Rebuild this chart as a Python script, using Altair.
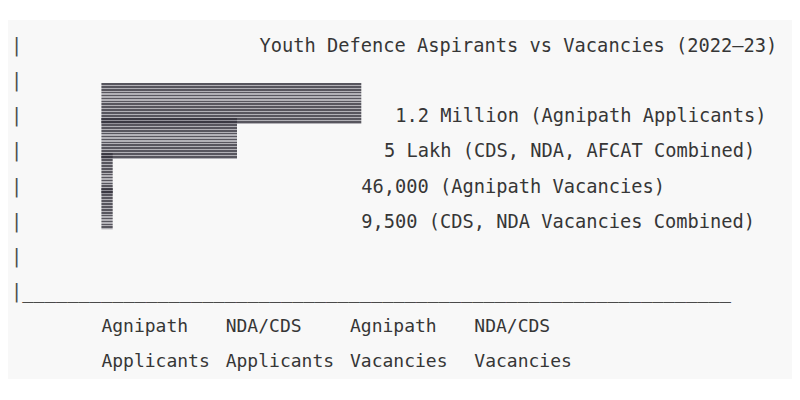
import altair as alt
import pandas as pd

# ---- data ----
title_text = "Youth Defence Aspirants vs Vacancies (2022–23)"
tick_line1 = ["Agnipath", "NDA/CDS", "Agnipath", "NDA/CDS"]
tick_line2 = ["Applicants", "Applicants", "Vacancies", "Vacancies"]
values = [1200000, 500000, 46000, 9500]
value_labels = [
    "1.2 Million (Agnipath Applicants)",
    "5 Lakh (CDS, NDA, AFCAT Combined)",
    "46,000 (Agnipath Vacancies)",
    "9,500 (CDS, NDA Vacancies Combined)",
]
bar_blocks = [23, 12, 1, 1]  # bar length in character blocks, as drawn

# ---- layout of the character grid (code, not data) ----
W, H = 784, 384
CHAR_W = 11.3
ROW_H = 35.13
X_OFF = 3.0      # px of column 0's left edge
Y_OFF = 38.0     # px of row 0's centre
BAR_COL = 8
LABEL_COLS = [34, 33, 31, 31]
TICK_COL0, TICK_STEP = 8, 11
FONT = "DejaVu Sans Mono"
FS = 18.7
INK = "#363636"

xs = alt.Scale(domain=[-X_OFF / CHAR_W, (W - X_OFF) / CHAR_W], nice=False, zero=False)
ys = alt.Scale(domain=[-Y_OFF / ROW_H, (H - Y_OFF) / ROW_H], nice=False, zero=False, reverse=True)

n = len(values)
bars = pd.DataFrame({
    "category": [a + " " + b for a, b in zip(tick_line1, tick_line2)],
    "value": values,
    "blocks": bar_blocks,
})
bars["c0"] = BAR_COL
bars["c1"] = BAR_COL + bars["blocks"]
bars["r0"] = [i + 2 - 0.95 for i in range(n)]
bars["r1"] = [i + 2 + 0.22 for i in range(n)]

labels = pd.DataFrame({"text": value_labels, "col": LABEL_COLS, "row": [i + 2 for i in range(n)]})

ticks = pd.DataFrame({
    "text": tick_line1 + tick_line2,
    "col": [TICK_COL0 + TICK_STEP * i for i in range(n)] * 2,
    "row": [8] * n + [9] * n,
})

axis_chars = pd.DataFrame({
    "text": ["|"] * 7 + ["|" + "_" * 63],
    "col": [0] * 8,
    "row": list(range(8)),
})

title_df = pd.DataFrame({"text": [title_text], "col": [22], "row": [0]})

# striped fill for the block bars
stops = []
periods = 14
dark = "rgba(52,50,60,0.82)"
light = "rgba(120,118,128,0.55)"
for j in range(periods):
    a = j / periods
    b = (j + 0.6) / periods
    c = (j + 1) / periods
    stops += [
        alt.GradientStop(offset=a, color=dark),
        alt.GradientStop(offset=b, color=dark),
        alt.GradientStop(offset=b, color=light),
        alt.GradientStop(offset=c, color=light),
    ]
stripe = alt.LinearGradient(gradient="linear", stops=stops, x1=0, y1=0, x2=0, y2=1)

panel = alt.Chart(pd.DataFrame({"k": [0]})).mark_rect(color="#f8f8f8").encode(
    x=alt.value(0), x2=alt.value(W), y=alt.value(12), y2=alt.value(371)
)

bar_layer = alt.Chart(bars).mark_rect(color=stripe).encode(
    x=alt.X("c0:Q", scale=xs, axis=None),
    x2="c1:Q",
    y=alt.Y("r0:Q", scale=ys, axis=None),
    y2="r1:Q",
    tooltip=["category:N", "value:Q"],
)

def text_layer(df, size=FS, color=INK):
    return alt.Chart(df).mark_text(
        align="left", baseline="middle", font=FONT, fontSize=size, color=color
    ).encode(
        x=alt.X("col:Q", scale=xs, axis=None),
        y=alt.Y("row:Q", scale=ys, axis=None),
        text="text:N",
    )

chart = alt.layer(
    panel,
    bar_layer,
    text_layer(axis_chars, color="#4a4a4a"),
    text_layer(title_df),
    text_layer(labels),
    text_layer(ticks, size=18.0),
).properties(
    width=W, height=H, padding=0, autosize=alt.AutoSizeParams(type="none"), background="white"
).configure_view(stroke=None)

chart.save("out.html", embed_options={"renderer": "svg", "actions": False})
